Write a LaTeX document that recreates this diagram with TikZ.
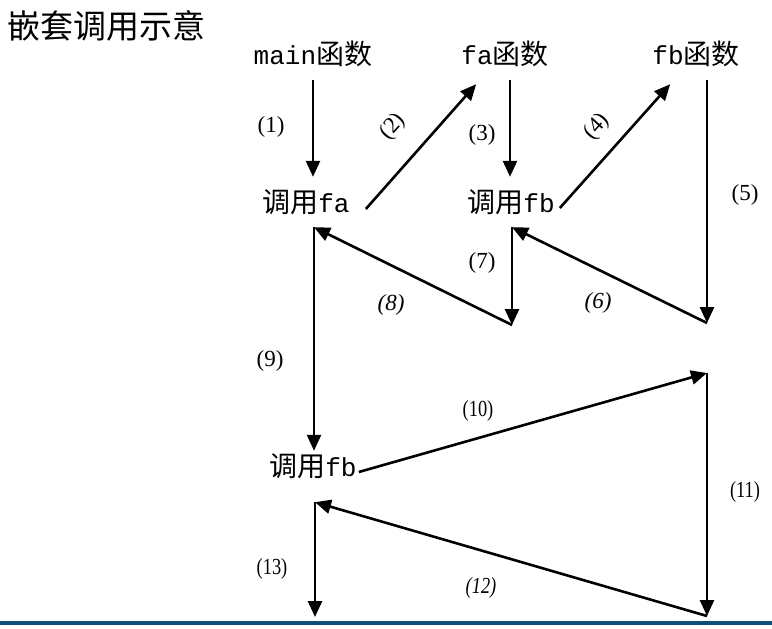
\documentclass[tikz,border=0pt]{standalone}
\usepackage{fontspec}
\setmainfont{Liberation Serif}
\newfontfamily\cjk{Noto Sans CJK SC}
\newfontfamily\mono[Scale=0.93]{Liberation Mono}
\usetikzlibrary{arrows.meta}
\definecolor{barblue}{RGB}{16,78,122}
\tikzset{
fn/.style={inner sep=0pt, text height=18pt, text depth=6pt,
  font=\fontsize{28}{28}\selectfont},
num/.style={inner sep=0pt, font=\fontsize{23}{23}\selectfont},
arr/.style={line width=2.6pt, -{Triangle[length=16pt,width=14pt]}}}

\begin{document}
\begin{tikzpicture}[x=1pt,y=-1pt]
\useasboundingbox (0,0) rectangle (772,629);
\node[anchor=west, inner sep=0pt, font=\cjk\fontsize{33}{33}\selectfont] (title) at (7,26) {嵌套调用示意};

\node[fn] (main) at (313,58) {{\mono main}{\cjk 函数}};
\node[fn] (fa) at (505,58) {{\mono fa}{\cjk 函数}};
\node[fn] (fb) at (696,58) {{\mono fb}{\cjk 函数}};
\node[fn] (callfa) at (306,206) {{\cjk 调用}{\mono fa}};
\node[fn] (callfb) at (511,206) {{\cjk 调用}{\mono fb}};
\node[fn] (callfbb) at (313,470) {{\cjk 调用}{\mono fb}};

\coordinate (k5) at (707,323);
\coordinate (k7) at (512,325);
\coordinate (k10) at (707,373);
\coordinate (k11) at (707,616);
\coordinate (k13) at (315,617);

\draw[arr] ([yshift=-10pt]main.south) -- ([xshift=7pt,yshift=17pt]callfa.north);
\draw[arr] ([xshift=16pt,yshift=-3pt]callfa.east) -- ([xshift=15pt,yshift=-14pt]fa.south west);
\draw[arr] ([xshift=5pt,yshift=-10pt]fa.south) -- ([xshift=-1pt,yshift=17pt]callfb.north);
\draw[arr] ([xshift=5pt,yshift=-2pt]callfb.east) -- ([xshift=18pt,yshift=-14pt]fb.south west);
\draw[arr] ([xshift=11pt,yshift=-10pt]fb.south) -- (k5);
\draw[arr] (k5) -- ([xshift=1pt,yshift=-9pt]callfb.south);
\draw[arr] ([xshift=1pt,yshift=-9pt]callfb.south) -- (k7);
\draw[arr] (k7) -- ([xshift=8pt,yshift=-9pt]callfa.south);
\draw[arr] ([xshift=8pt,yshift=-9pt]callfa.south) -- ([xshift=1pt,yshift=7pt]callfbb.north);
\draw[arr] ([xshift=2pt,yshift=-2pt]callfbb.east) -- (k10);
\draw[arr] (k10) -- (k11);
\draw[arr] (k11) -- ([xshift=2pt,yshift=-20pt]callfbb.south);
\draw[arr] ([xshift=2pt,yshift=-20pt]callfbb.south) -- (k13);

\node[num] (n1) at (271,127) {(1)};
\node[num, rotate=48] (n2) at (393,127) {(2)};
\node[num] (n3) at (482,135) {(3)};
\node[num, rotate=48] (n4) at (597,127) {(4)};
\node[num] (n5) at (745,195) {(5)};
\node[num, font=\fontsize{23}{23}\selectfont\itshape] (n6) at (598,303) {(6)};
\node[num] (n7) at (482,263) {(7)};
\node[num, font=\fontsize{23}{23}\selectfont\itshape] (n8) at (391,305) {(8)};
\node[num] (n9) at (270,361) {(9)};
\node[num, xscale=0.8] (n10) at (478,411) {(10)};
\node[num, xscale=0.8] (n11) at (745,492) {(11)};
\node[num, xscale=0.8, font=\fontsize{23}{23}\selectfont\itshape] (n12) at (481,588) {(12)};
\node[num, xscale=0.8] (n13) at (272,569) {(13)};

\fill[barblue] (0,621) rectangle (772,625);
\end{tikzpicture}
\end{document}
